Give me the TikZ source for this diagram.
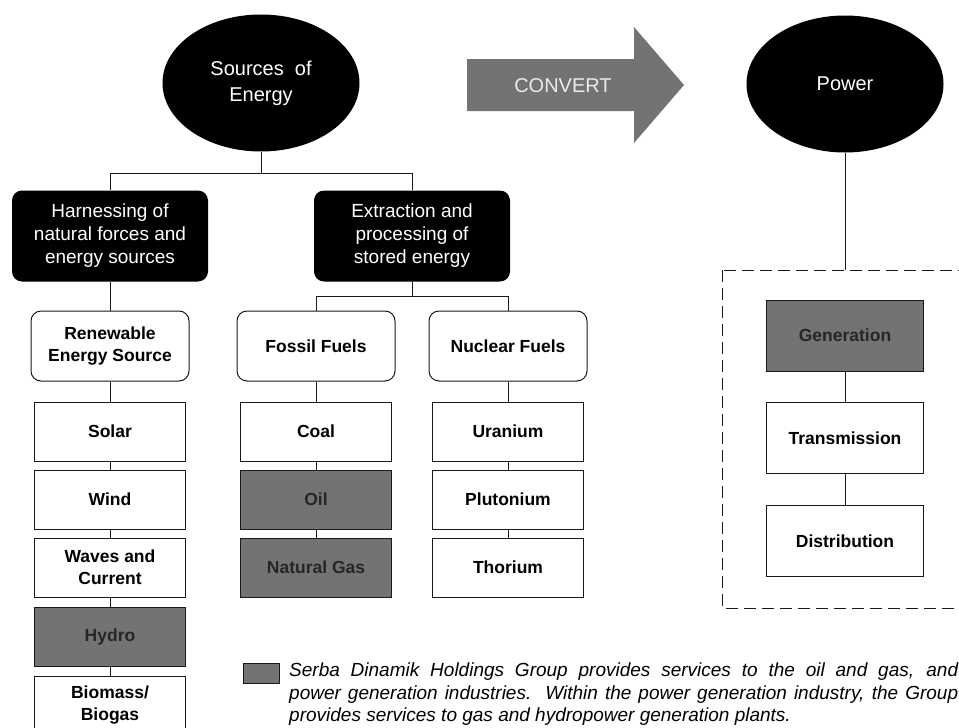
\documentclass[tikz,border=0pt]{standalone}
\usepackage{fontspec}
\setmainfont{Liberation Sans}
\usetikzlibrary{shapes.geometric}

\begin{document}
\begin{tikzpicture}[x=1pt,y=-1pt]
			\tikzstyle{source}=[ellipse,fill=black,text=white,inner sep=0pt,minimum width=197pt,minimum height=137pt,align=center,font=\fontsize{20}{26}\selectfont]
			\tikzstyle{branch}=[rectangle,rounded corners=10pt,fill=black,text=white,inner sep=0pt,minimum width=196pt,minimum height=91pt,align=center,font=\fontsize{19}{23}\selectfont]
			\tikzstyle{family}=[rectangle,rounded corners=10pt,draw=black!90,line width=1pt,fill=white,inner sep=0pt,minimum width=158pt,minimum height=70pt,align=center,font=\bfseries\fontsize{17.5}{22}\selectfont]
			\tikzstyle{item}=[rectangle,draw=black!90,line width=1pt,fill=white,inner sep=0pt,minimum width=151pt,minimum height=59pt,align=center,font=\bfseries\fontsize{17.5}{22}\selectfont]
			\tikzstyle{served}=[item,fill=black!55,text=black!85]
			\tikzstyle{stage}=[item,minimum width=157pt,minimum height=71pt]
			\tikzstyle{edge}=[draw=black!90,line width=1pt]
			\tikzstyle{legend}=[inner sep=0pt,text width=669pt,align=justify,font=\itshape\fontsize{19}{22.5}\selectfont]

			\useasboundingbox (0,0) rectangle (959,728);
			\clip (0,0) rectangle (959,728);

			\begin{scope}

				% top row
				\node [source] (src) at (261,83) {Sources\ \ of\\Energy};
				\node [source] (pow) at (845,84) {Power};
				\fill [black!55] (467,59) -- (634,59) -- (634,27) -- (684,85) -- (634,143) -- (634,111) -- (467,111) -- cycle;
				\node [font=\fontsize{20}{24}\selectfont,text=black!8] (conv) at (563,86) {CONVERT};

				% second row
				\node [branch] (harn) at (110,236) {Harnessing of\\natural forces and\\energy sources};
				\node [branch] (extr) at (412,236) {Extraction and\\processing of\\stored energy};
				\coordinate (hub1) at (261,173);
				\coordinate (hub2) at (412,296);

				% families
				\node [family] (ren) at (110,346) {Renewable\\Energy Source};
				\node [family] (fos) at (316,346) {Fossil Fuels};
				\node [family] (nuc) at (508,346) {Nuclear Fuels};

				% renewable column
				\node [item  ] (solar) at (110,431.5) {Solar};
				\node [item  ] (wind)  at (110,499.5) {Wind};
				\node [item  ] (waves) at (110,567.5) {Waves and\\Current};
				\node [served] (hydro) at (110,636.5) {Hydro};
				\node [item  ] (bio)   at (110,705.5) {Biomass/\\Biogas};

				% fossil column
				\node [item  ] (coal) at (316,431.5) {Coal};
				\node [served] (oil)  at (316,499.5) {Oil};
				\node [served] (gas)  at (316,567.5) {Natural Gas};

				% nuclear column
				\node [item] (uran) at (508,431.5) {Uranium};
				\node [item] (plut) at (508,499.5) {Plutonium};
				\node [item] (thor) at (508,567.5) {Thorium};

				% power chain
				\draw [black!90,line width=1pt,dash pattern=on 12pt off 6pt] (722,270) rectangle (985,608);
				\coordinate (frametop) at (845,270);
				\node [served,minimum width=157pt,minimum height=71pt] (gen) at (845,335.5) {Generation};
				\node [stage] (trans) at (845,438) {Transmission};
				\node [stage] (dist)  at (845,541) {Distribution};

				% connectors
				\path[edge] (src) edge (hub1);
				\draw[edge] (harn) |- (hub1);
				\draw[edge] (extr) |- (hub1);
				\path[edge] (harn) edge (ren);
				\path[edge] (extr) edge (hub2);
				\draw[edge] (fos) |- (hub2);
				\draw[edge] (nuc) |- (hub2);

				\path[edge] (ren)   edge (solar);
				\path[edge] (solar) edge (wind);
				\path[edge] (wind)  edge (waves);
				\path[edge] (waves) edge (hydro);
				\path[edge] (hydro) edge (bio);

				\path[edge] (fos)  edge (coal);
				\path[edge] (coal) edge (oil);
				\path[edge] (oil)  edge (gas);

				\path[edge] (nuc)  edge (uran);
				\path[edge] (uran) edge (plut);
				\path[edge] (plut) edge (thor);

				\path[edge] (pow)   edge (frametop);
				\path[edge] (gen)   edge (trans);
				\path[edge] (trans) edge (dist);

				% legend
				\node [served,minimum width=36pt,minimum height=20pt] (key) at (261,673) {};
				\node [legend,anchor=north west] (keytext) at (289,663) {Serba Dinamik Holdings Group provides services to the oil and gas, and\linebreak power generation industries.\ \ Within the power generation industry, the Group\linebreak provides services to gas and hydropower generation plants.};

			\end{scope}
\end{tikzpicture}
\end{document}
